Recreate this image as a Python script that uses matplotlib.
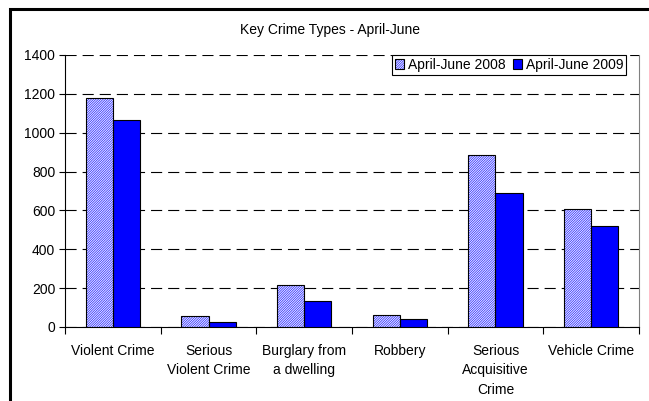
import numpy as np
import matplotlib
matplotlib.use('Agg')
import matplotlib.pyplot as plt
from matplotlib.patches import Patch, Rectangle
from matplotlib.legend_handler import HandlerTuple

plt.rcParams['font.family'] = ['Liberation Sans', 'DejaVu Sans']
plt.rcParams['hatch.linewidth'] = 0.5

categories = ['Violent Crime', 'Serious\nViolent Crime', 'Burglary from\na dwelling',
              'Robbery', 'Serious\nAcquisitive\nCrime', 'Vehicle Crime']
values_2008 = [1180, 57, 218, 60, 885, 606]
values_2009 = [1068, 27, 134, 40, 690, 518]
series_names = ['April-June 2008', 'April-June 2009']
title = 'Key Crime Types - April-June'

HATCH = '/' * 14
HATCH_FACE = '#eeeeff'
HATCH_INK = '#2020ff'

fig = plt.figure(figsize=(6.49, 4.01), dpi=100)
ax = fig.add_axes([65 / 649, 1 - 327 / 401, 574 / 649, 272 / 401])

x = np.arange(len(categories))
w = 0.285

# hatched 2008 bars: hatch layer then black outline
ax.bar(x - w / 2, values_2008, w, facecolor=HATCH_FACE, edgecolor=HATCH_INK,
       hatch=HATCH, linewidth=0, zorder=3)
ax.bar(x - w / 2, values_2008, w, fill=False, edgecolor='black', linewidth=0.8, zorder=4)
ax.bar(x + w / 2, values_2009, w, facecolor='#0000ff', edgecolor='black',
       linewidth=0.8, zorder=3)

ax.set_xlim(-0.5, len(categories) - 0.5)
ax.set_ylim(0, 1400)
ax.set_yticks(np.arange(0, 1401, 200))
ax.yaxis.grid(True, color='black', linewidth=0.8, linestyle=(0, (10, 5.4)), zorder=1)
ax.set_axisbelow(True)

ax.set_xticks(x)
ax.set_xticklabels(categories, fontsize=10, linespacing=1.5)
ax.set_xticks(np.arange(-0.5, len(categories)), minor=True)
ax.tick_params(axis='x', which='major', length=0, pad=12)
ax.tick_params(axis='x', which='minor', length=5, width=0.8, direction='out')
ax.tick_params(axis='y', length=4, width=0.8, labelsize=10, pad=3)

ax.spines['top'].set_visible(False)
ax.spines['right'].set_color('#808080')
ax.spines['right'].set_linewidth(0.8)
ax.spines['left'].set_linewidth(0.8)
ax.spines['bottom'].set_linewidth(0.8)

h1 = (Patch(facecolor=HATCH_FACE, edgecolor=HATCH_INK, hatch=HATCH, linewidth=0),
      Patch(fill=False, edgecolor='black', linewidth=0.8))
h2 = Patch(facecolor='#0000ff', edgecolor='black', linewidth=0.8)
leg = ax.legend([h1, h2], series_names, handler_map={tuple: HandlerTuple(ndivide=1)},
                loc='upper right', bbox_to_anchor=((626 - 65) / 574, 1.0),
                borderaxespad=0, ncol=2, fontsize=10, fancybox=False,
                edgecolor='black', framealpha=1, handlelength=0.7, handleheight=0.7,
                handletextpad=0.25, columnspacing=0.5, borderpad=0.2)
leg.get_frame().set_linewidth(0.8)

fig.text(330 / 649, 1 - 30 / 401, title, ha='center', va='center', fontsize=10)

# outer chart frame (cropped on right and bottom)
fig.patches.append(Rectangle((10 / 649, -0.1), 1.2, 1 - 9 / 401 + 0.1,
                             transform=fig.transFigure, fill=False,
                             edgecolor='black', linewidth=2.2))

fig.savefig('out.png', dpi=100)
